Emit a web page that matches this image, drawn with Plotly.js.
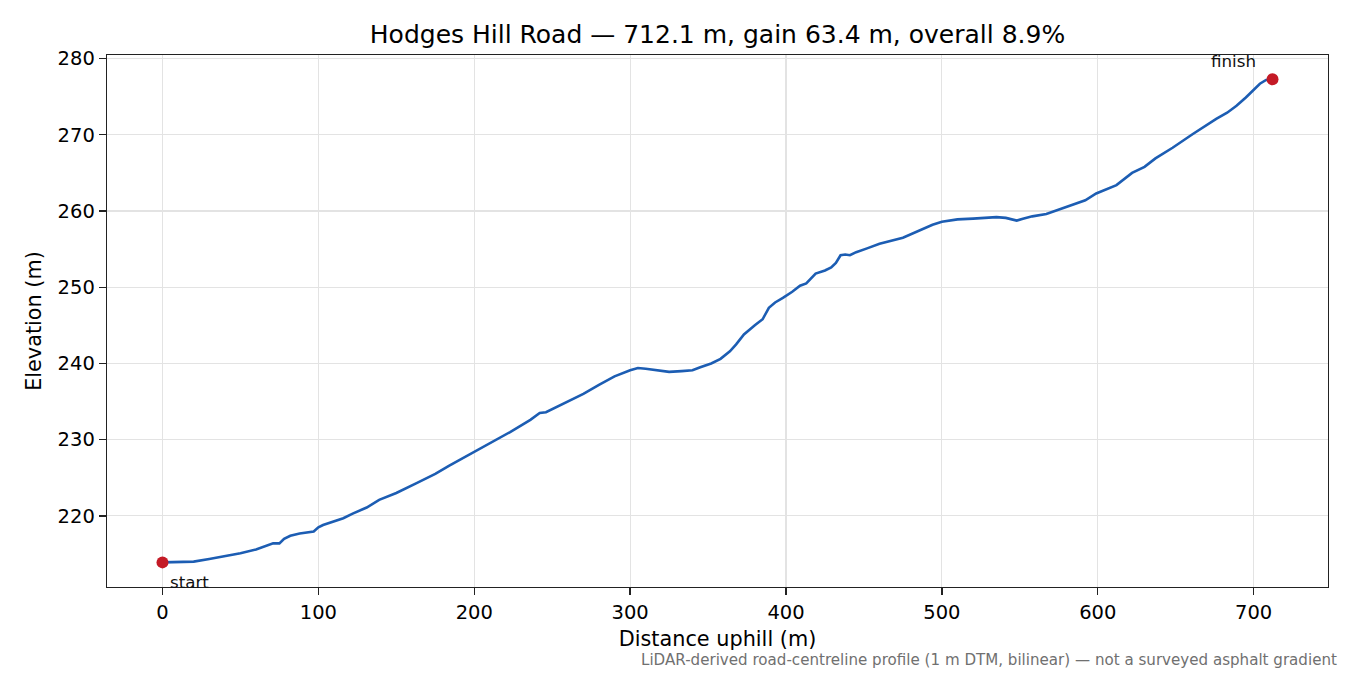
<!DOCTYPE html>
<html>
<head>
<meta charset="utf-8">
<script src="https://cdn.plot.ly/plotly-3.0.1.min.js"></script>
<style>
  html, body { margin: 0; padding: 0; background: #fff; }
  #chart { width: 1350px; height: 675px; }
</style>
</head>
<body>
<div id="chart"></div>
<script>
// Distance along the road (m)
const distance = [0, 10, 20, 30, 40, 50, 60, 66, 71, 75, 78, 82, 88, 97, 100, 103, 110, 116, 122, 131,
  139, 150, 163, 175, 184, 199, 212, 223, 236, 242, 246, 250, 260, 270, 280, 290, 300, 305, 310, 318,
  325, 333, 340, 345, 352, 358, 364, 368, 373, 380, 385, 389, 393, 398, 404, 409, 413, 419, 425, 429,
  432, 435, 438, 441, 445, 452, 460, 475, 485, 494, 500, 510, 520, 530, 535, 541, 545, 548, 552, 558,
  567, 575, 583, 592, 599, 605, 612, 622, 630, 637, 648, 661, 670, 676, 683, 689, 695, 700, 704, 708, 712.1];

// Elevation (m)
const elevation = [213.9, 213.95, 214.0, 214.35, 214.7, 215.1, 215.6, 216.0, 216.4, 216.4, 217.0, 217.4, 217.7, 217.95, 218.5, 218.8, 219.3, 219.7, 220.3, 221.1,
  222.1, 223.0, 224.3, 225.5, 226.6, 228.3, 229.7, 231.0, 232.6, 233.5, 233.6, 234.0, 234.9, 236.0, 237.2, 238.3, 239.1, 239.4, 239.3, 239.1,
  238.9, 239.0, 239.1, 239.5, 240.0, 240.6, 241.6, 242.5, 243.8, 245.0, 245.8, 247.3, 248.0, 248.6, 249.4, 250.2, 250.5, 251.8, 252.2, 252.6,
  253.2, 254.2, 254.3, 254.2, 254.6, 255.1, 255.7, 256.5, 257.4, 258.2, 258.6, 258.9, 259.0, 259.1, 259.2, 259.1, 258.9, 258.75, 259.0, 259.3,
  259.6, 260.2, 260.7, 261.4, 262.3, 262.8, 263.4, 265.0, 265.8, 266.9, 268.3, 270.1, 271.3, 272.1, 272.9, 273.8, 274.9, 275.9, 276.7, 277.2, 277.3];

const xTicks = [0, 100, 200, 300, 400, 500, 600, 700];
const yTicks = [220, 230, 240, 250, 260, 270, 280];

const titleText = "Hodges Hill Road — 712.1 m, gain 63.4 m, overall 8.9%";
const xTitle = "Distance uphill (m)";
const yTitle = "Elevation (m)";
const footnote = "LiDAR-derived road-centreline profile (1 m DTM, bilinear) — not a surveyed asphalt gradient";
const startLabel = "start";
const finishLabel = "finish";

const n = distance.length;
const FONT = "DejaVu Sans, sans-serif";

const traces = [
  {
    x: distance, y: elevation, type: "scatter", mode: "lines",
    line: { color: "#1c5db3", width: 2.6 },
    hoverinfo: "skip", showlegend: false
  },
  {
    x: [distance[0], distance[n - 1]], y: [elevation[0], elevation[n - 1]],
    type: "scatter", mode: "markers",
    marker: { color: "#c41a26", size: 12 },
    hoverinfo: "skip", showlegend: false
  }
];

const axisCommon = {
  showline: true, linecolor: "#222", linewidth: 1.3, mirror: true,
  ticks: "outside", ticklen: 7, tickwidth: 1.3, tickcolor: "#222",
  showgrid: true, gridcolor: "#e3e3e3", gridwidth: 1.2,
  zeroline: false,
  tickfont: { family: FONT, size: 19.5, color: "#000" }
};

const layout = {
  width: 1350, height: 675,
  paper_bgcolor: "#fff", plot_bgcolor: "#fff",
  margin: { l: 107, r: 22, t: 55, b: 88 },
  font: { family: FONT, color: "#000" },
  title: {
    text: titleText, font: { family: FONT, size: 25, color: "#000" },
    x: 0.5, xref: "paper", y: 1 - 34 / 675, yref: "container", yanchor: "middle", xanchor: "center"
  },
  xaxis: Object.assign({}, axisCommon, {
    range: [-35.6, 747.7], tickvals: xTicks, ticktext: xTicks.map(String),
    title: { text: xTitle, font: { family: FONT, size: 20.8, color: "#000" }, standoff: 8 }
  }),
  yaxis: Object.assign({}, axisCommon, {
    range: [210.67, 280.47], tickvals: yTicks, ticktext: yTicks.map(String),
    title: { text: yTitle, font: { family: FONT, size: 20.8, color: "#000" }, standoff: 10 }
  }),
  annotations: [
    {
      text: startLabel, x: distance[0], y: elevation[0], xref: "x", yref: "y",
      xanchor: "left", yanchor: "middle", xshift: 6, yshift: -20, showarrow: false,
      font: { family: FONT, size: 16.7, color: "#111" }
    },
    {
      text: finishLabel, x: distance[n - 1], y: elevation[n - 1], xref: "x", yref: "y",
      xanchor: "center", yanchor: "middle", xshift: -39, yshift: 18, showarrow: false,
      font: { family: FONT, size: 16.7, color: "#111" }
    },
    {
      text: footnote, x: 1.009, y: -0.1372, xref: "paper", yref: "paper",
      xanchor: "right", yanchor: "middle", showarrow: false,
      font: { family: FONT, size: 15.1, color: "#707070" }
    }
  ]
};

Plotly.newPlot("chart", traces, layout, { staticPlot: true, displayModeBar: false });
</script>
</body>
</html>
